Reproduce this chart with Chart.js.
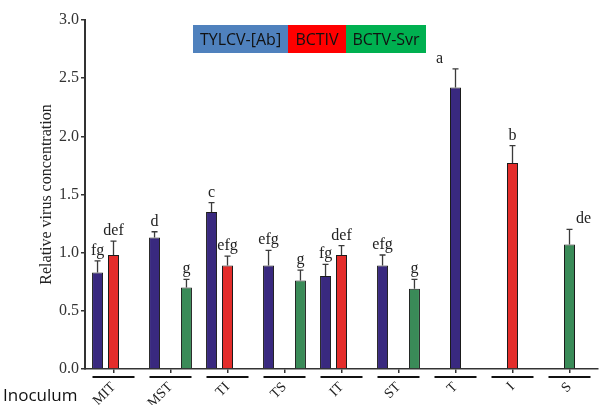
<!DOCTYPE html>
<html>
<head>
<meta charset="utf-8">
<script src="https://cdn.jsdelivr.net/npm/chart.js@4/dist/chart.umd.min.js"></script>
<style>
  html, body { margin: 0; padding: 0; background: #fff; }
  #chart { display: block; }
</style>
</head>
<body>
<canvas id="chart" width="599" height="405"></canvas>
<script>
// categories (inoculum combinations)
const categories = ['MIT', 'MST', 'TI', 'TS', 'IT', 'ST', 'T', 'I', 'S'];

// mixed infections, one bar per virus
const tylcvValues = [0.83, 1.13, 1.35, 0.89, 0.80, 0.89, null, null, null];
const tylcvErrors = [0.10, 0.05, 0.08, 0.13, 0.10, 0.09, null, null, null];
const tylcvLetters = ['fg', 'd', 'c', 'efg', 'fg', 'efg', '', '', ''];

const bctivValues = [0.98, null, 0.89, null, 0.98, null, null, null, null];
const bctivErrors = [0.12, null, 0.08, null, 0.08, null, null, null, null];
const bctivLetters = ['def', '', 'efg', '', 'def', '', '', '', ''];

const bctvValues = [null, 0.70, null, 0.76, null, 0.69, null, null, null];
const bctvErrors = [null, 0.07, null, 0.09, null, 0.08, null, null, null];
const bctvLetters = ['', 'g', '', 'g', '', 'g', '', '', ''];

// single infections (T, I, S), centred on their tick
const singleValues = [null, null, null, null, null, null, 2.42, 1.77, 1.07];
const singleErrors = [null, null, null, null, null, null, 0.16, 0.15, 0.13];
const singleLetters = ['', '', '', '', '', '', 'a', 'b', 'de'];

const yTicks = [0, 0.5, 1.0, 1.5, 2.0, 2.5, 3.0];

const PURPLE = '#39297f';
const RED = '#e42d2b';
const GREEN = '#3a8b58';
const SERIF = '"Liberation Serif", "Times New Roman", serif';

// small nudges for letters that sit off-centre in the original
const letterNudge = { 'a': -16, 'de': 14 };

const errorBarsPlugin = {
    id: 'errorBars',
    afterDatasetsDraw(chart) {
        const ctx = chart.ctx;
        const yScale = chart.scales.y;
        ctx.save();
        chart.data.datasets.forEach((ds, di) => {
            const meta = chart.getDatasetMeta(di);
            meta.data.forEach((bar, i) => {
                const v = ds.data[i];
                if (v === null || v === undefined) return;
                const top = yScale.getPixelForValue(v + ds.errors[i]);
                ctx.strokeStyle = '#3a3a3a';
                ctx.lineWidth = 1.3;
                ctx.beginPath();
                ctx.moveTo(bar.x, bar.y);
                ctx.lineTo(bar.x, top);
                ctx.moveTo(bar.x - 3, top);
                ctx.lineTo(bar.x + 3, top);
                ctx.stroke();

                const letter = ds.letters[i];
                if (letter) {
                    ctx.fillStyle = '#222';
                    ctx.font = '16px ' + SERIF;
                    ctx.textAlign = 'center';
                    ctx.textBaseline = 'alphabetic';
                    ctx.fillText(letter, bar.x + (letterNudge[letter] || 0), top - 6);
                }
            });
        });
        ctx.restore();
    }
};

const decorPlugin = {
    id: 'decor',
    afterDraw(chart) {
        const ctx = chart.ctx;
        const xScale = chart.scales.x;
        const area = chart.chartArea;
        ctx.save();

        // black underline below each group
        ctx.strokeStyle = '#111';
        ctx.lineWidth = 2;
        categories.forEach((c, i) => {
            const cx = xScale.getPixelForValue(i);
            ctx.beginPath();
            ctx.moveTo(cx - 21, area.bottom + 8);
            ctx.lineTo(cx + 21, area.bottom + 8);
            ctx.stroke();
        });

        // "Inoculum" label
        ctx.fillStyle = '#111';
        ctx.font = '17px "Open Sans", sans-serif';
        ctx.textAlign = 'left';
        ctx.textBaseline = 'alphabetic';
        ctx.fillText('Inoculum', 3, 401);

        // coloured key boxes
        const keys = [
            { text: 'TYLCV-[Ab]', color: '#4f81bd', x: 193, w: 95 },
            { text: 'BCTIV', color: '#ff0000', x: 288, w: 58 },
            { text: 'BCTV-Svr', color: '#00b050', x: 346, w: 80 }
        ];
        ctx.font = '16px "Open Sans", sans-serif';
        ctx.textAlign = 'center';
        ctx.textBaseline = 'middle';
        keys.forEach(k => {
            ctx.fillStyle = k.color;
            ctx.fillRect(k.x, 25, k.w, 28);
            ctx.fillStyle = '#111';
            ctx.fillText(k.text, k.x + k.w / 2, 40);
        });
        ctx.restore();
    }
};

function makeSet(label, values, errors, letters, color, grouped) {
    return {
        label: label,
        data: values,
        errors: errors,
        letters: letters,
        backgroundColor: color,
        borderColor: '#1b1b1b',
        borderWidth: 1,
        grouped: grouped,
        maxBarThickness: 11,
        categoryPercentage: 0.84,
        barPercentage: 1.0
    };
}

const singleColors = categories.map((c, i) => i === 6 ? PURPLE : i === 7 ? RED : GREEN);

new Chart(document.getElementById('chart'), {
    type: 'bar',
    data: {
        labels: categories,
        datasets: [
            makeSet('TYLCV-[Ab]', tylcvValues, tylcvErrors, tylcvLetters, PURPLE, true),
            makeSet('BCTIV', bctivValues, bctivErrors, bctivLetters, RED, true),
            makeSet('BCTV-Svr', bctvValues, bctvErrors, bctvLetters, GREEN, true),
            makeSet('single', singleValues, singleErrors, singleLetters, singleColors, false)
        ]
    },
    options: {
        responsive: false,
        animation: false,
        layout: { padding: { top: 20, right: 1, left: 0, bottom: 0 } },
        plugins: {
            legend: { display: false },
            tooltip: { enabled: false }
        },
        scales: {
            x: {
                grid: { offset: false, drawOnChartArea: false, tickLength: 4, color: '#333', lineWidth: 1.5 },
                border: { color: '#333', width: 1.5 },
                ticks: {
                    maxRotation: 45,
                    minRotation: 45,
                    padding: 6,
                    color: '#222',
                    font: { family: SERIF, size: 14 }
                },
                afterFit: (scale) => { scale.height = 36; }
            },
            y: {
                min: 0,
                max: 3,
                afterBuildTicks: (scale) => { scale.ticks = yTicks.map(v => ({ value: v })); },
                ticks: {
                    callback: (v) => Number(v).toFixed(1),
                    color: '#333',
                    padding: 2,
                    font: { family: SERIF, size: 16 }
                },
                grid: { drawOnChartArea: false, tickLength: 4, color: '#333', lineWidth: 1.5 },
                border: { color: '#333', width: 2 },
                title: {
                    display: true,
                    text: 'Relative virus concentration',
                    color: '#222',
                    font: { family: SERIF, size: 16 },
                    padding: { top: 37, bottom: 0 }
                },
                afterFit: (scale) => { scale.width = 85; }
            }
        }
    },
    plugins: [errorBarsPlugin, decorPlugin]
});
</script>
</body>
</html>
